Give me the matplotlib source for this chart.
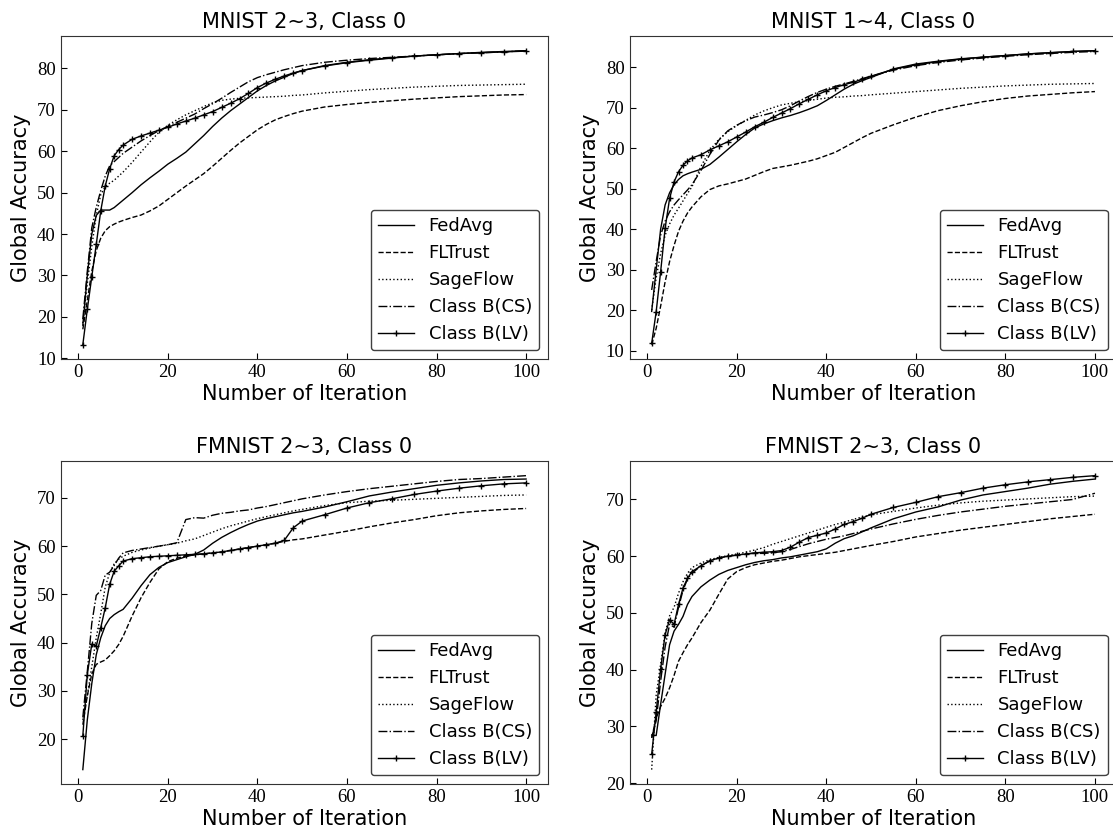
import matplotlib
matplotlib.use("Agg")
import matplotlib.pyplot as plt

# Iterations at which the accuracy was recorded
iterations = [1, 2, 3, 4, 5, 6, 7, 8, 9, 10,
              12, 14, 16, 18, 20, 22, 24, 26, 28, 30,
              32, 34, 36, 38, 40, 42, 44, 46, 48, 50,
              55, 60, 65, 70, 75, 80, 85, 90, 95, 100]

# MNIST 2~3, Class 0
mnist23_fedavg = [18, 30, 40, 44.5, 45.8, 45.8, 45.8, 46.4, 47.3, 48.2,
                  50, 51.9, 53.6, 55.2, 56.9, 58.3, 59.8, 61.8, 63.8, 66.0,
                  68.0, 69.8, 71.4, 73.0, 74.6, 75.9, 77.0, 77.9, 78.8, 79.5,
                  80.7, 81.5, 82.1, 82.6, 83.0, 83.3, 83.6, 83.9, 84.1, 84.3]
mnist23_fltrust = [17, 24, 31, 36, 39, 40.8, 41.8, 42.4, 42.9, 43.3,
                   44.0, 44.6, 45.6, 46.8, 48.4, 50.0, 51.6, 53.1, 54.6, 56.4,
                   58.3, 60.2, 62.0, 63.6, 65.2, 66.5, 67.6, 68.4, 69.1, 69.7,
                   70.7, 71.3, 71.8, 72.2, 72.6, 72.9, 73.2, 73.4, 73.6, 73.7]
mnist23_sageflow = [18.5, 28, 37, 44.5, 49.5, 51.5, 52.3, 53.0, 54.0, 55.0,
                    57.3, 59.8, 62.3, 64.6, 66.3, 67.6, 68.8, 69.8, 70.8, 71.7,
                    72.3, 72.6, 72.8, 72.9, 73.0, 73.1, 73.2, 73.3, 73.5, 73.6,
                    74.1, 74.5, 74.9, 75.2, 75.5, 75.7, 75.9, 76.0, 76.1, 76.2]
mnist23_cs = [19.5, 31, 41.5, 46.5, 50.5, 54, 56.5, 57.5, 58.5, 59.5,
              61.0, 62.5, 63.8, 65.0, 66.0, 67.0, 68.0, 69.0, 70.3, 71.5,
              72.8, 74.2, 75.5, 76.8, 77.8, 78.5, 79.1, 79.7, 80.2, 80.7,
              81.5, 82.0, 82.4, 82.7, 83.0, 83.3, 83.6, 83.8, 84.0, 84.3]
mnist23_lv = [13.3, 21.8, 29.7, 37.5, 45.6, 51.6, 55.8, 58.9, 60.4, 61.5,
              62.9, 63.7, 64.4, 65.1, 65.8, 66.6, 67.3, 68.0, 68.8, 69.6,
              70.6, 71.6, 72.7, 74.0, 75.4, 76.5, 77.4, 78.2, 78.9, 79.5,
              80.6, 81.4, 82.0, 82.5, 83.0, 83.3, 83.6, 83.8, 84.0, 84.2]

# MNIST 1~4, Class 0
mnist14_fedavg = [19.7, 30, 40, 46, 49, 51, 52.3, 53.2, 53.7, 54.1,
                  54.8, 56.0, 57.8, 59.7, 61.6, 63.4, 65.0, 66.0, 66.8, 67.5,
                  68.1, 68.8, 69.6, 70.5, 71.8, 73.2, 74.6, 75.8, 76.7, 77.5,
                  79.6, 80.8, 81.5, 82.1, 82.5, 82.9, 83.3, 83.6, 83.9, 84.1]
mnist14_fltrust = [11.5, 15.5, 21, 27, 32, 36, 39.5, 42, 44, 45.5,
                   48.0, 49.8, 50.7, 51.2, 51.8, 52.4, 53.3, 54.2, 55.0, 55.4,
                   55.8, 56.3, 56.8, 57.4, 58.2, 59.0, 60.2, 61.4, 62.6, 63.7,
                   65.8, 67.7, 69.3, 70.5, 71.5, 72.3, 72.9, 73.3, 73.7, 74.0]
mnist14_sageflow = [20, 28, 34, 38.5, 41.3, 43.5, 45.2, 47, 48.8, 50.5,
                    55.5, 59.5, 62.2, 64.1, 65.6, 66.9, 68.2, 69.2, 70.0, 70.7,
                    71.1, 71.5, 71.8, 72.1, 72.4, 72.6, 72.7, 72.9, 73.0, 73.2,
                    73.6, 74.0, 74.4, 74.8, 75.1, 75.4, 75.6, 75.8, 75.9, 76.0]
mnist14_cs = [25, 32, 38.5, 42, 44.3, 46, 47.3, 48.5, 49.7, 51,
              54.5, 58.5, 62.0, 64.3, 65.7, 66.8, 67.7, 68.2, 68.8, 69.5,
              70.5, 71.7, 72.8, 73.8, 74.6, 75.3, 75.9, 76.5, 77.2, 77.8,
              79.3, 80.4, 81.2, 81.8, 82.3, 82.7, 83.1, 83.4, 83.7, 83.9]
mnist14_lv = [11.8, 19.6, 29.5, 40.2, 47.6, 51.7, 54.2, 55.8, 56.9, 57.6,
              58.4, 59.6, 60.6, 61.6, 62.8, 64.0, 65.3, 66.4, 67.6, 68.7,
              69.8, 71.0, 72.1, 73.2, 74.2, 75.0, 75.7, 76.3, 77.0, 77.8,
              79.5, 80.6, 81.4, 82.0, 82.5, 82.9, 83.3, 83.6, 83.9, 84.1]

# FMNIST 2~3, Class 0 (first run)
fmnist_a_fedavg = [13.7, 24, 31.5, 37.5, 41, 43.5, 45, 45.8, 46.4, 46.9,
                   49.2, 51.8, 54.1, 55.6, 56.6, 57.2, 57.8, 58.3, 59.2, 60.6,
                   61.8, 62.8, 63.7, 64.5, 65.2, 65.7, 66.1, 66.5, 66.9, 67.2,
                   68.1, 69.2, 70.4, 71.2, 71.9, 72.6, 73.1, 73.5, 73.8, 73.9]
fmnist_a_fltrust = [23, 29, 33.5, 35.5, 36, 36.4, 37.3, 38.3, 39.6, 41.3,
                    45.5, 49.3, 52.5, 55.3, 56.8, 57.5, 57.9, 58.2, 58.4, 58.6,
                    58.8, 59.1, 59.4, 59.7, 60.0, 60.3, 60.6, 61.0, 61.3, 61.5,
                    62.3, 63.1, 64.0, 64.8, 65.5, 66.3, 66.9, 67.3, 67.6, 67.8]
fmnist_a_sageflow = [24, 29, 35, 41, 46, 51.5, 54.5, 56.3, 57.3, 57.9,
                     58.7, 59.2, 59.6, 60.0, 60.3, 60.6, 61.1, 61.5, 62.2, 62.9,
                     63.6, 64.2, 64.7, 65.2, 65.7, 66.1, 66.5, 66.9, 67.3, 67.6,
                     68.4, 69.0, 69.3, 69.5, 69.7, 69.9, 70.1, 70.3, 70.5, 70.6]
fmnist_a_cs = [24.5, 34, 44, 49.8, 50.8, 54, 54.6, 56, 57.5, 58.6,
               59.1, 59.4, 59.7, 60.0, 60.3, 60.7, 65.5, 65.9, 65.8, 66.4,
               66.8, 67.0, 67.3, 67.5, 67.9, 68.2, 68.6, 69.0, 69.4, 69.8,
               70.6, 71.3, 71.9, 72.4, 72.9, 73.4, 73.8, 74.0, 74.3, 74.6]
fmnist_a_lv = [20.7, 33.4, 39.7, 39.3, 43.1, 47.2, 52.1, 54.8, 55.9, 56.9,
               57.4, 57.6, 57.8, 57.9, 58.0, 58.1, 58.2, 58.3, 58.4, 58.6,
               58.8, 59.1, 59.4, 59.7, 60.0, 60.3, 60.6, 61.2, 63.8, 65.2,
               66.5, 67.9, 69.0, 69.8, 70.7, 71.4, 72.0, 72.5, 72.9, 73.1]

# FMNIST 2~3, Class 0 (second run)
fmnist_b_fedavg = [28.5, 28.4, 33.9, 39.2, 44.4, 46.8, 48, 49.4, 51.5, 52.9,
                   54.6, 55.8, 56.8, 57.5, 58.0, 58.5, 58.9, 59.2, 59.4, 59.7,
                   59.9, 60.2, 60.5, 60.8, 61.3, 62.3, 63.1, 63.6, 64.3, 65.0,
                   66.6, 67.8, 68.7, 69.9, 70.8, 71.4, 72.0, 72.7, 73.2, 73.6]
fmnist_b_fltrust = [28, 31.5, 33.5, 35, 36.8, 39, 41.5, 43, 44.4, 45.6,
                    48.3, 50.5, 53.3, 56.0, 57.3, 58.0, 58.5, 58.8, 59.1, 59.3,
                    59.6, 59.9, 60.1, 60.3, 60.5, 60.7, 61.0, 61.3, 61.6, 61.9,
                    62.6, 63.4, 64.0, 64.6, 65.1, 65.6, 66.1, 66.6, 67.0, 67.4]
fmnist_b_sageflow = [22.4, 35.5, 41, 46.5, 49.5, 51, 53.5, 55.5, 57, 58,
                     58.8, 59.4, 59.8, 60.1, 60.4, 60.7, 61.1, 61.5, 62.1, 62.6,
                     63.1, 63.6, 64.1, 64.6, 65.1, 65.6, 66.0, 66.5, 66.9, 67.3,
                     67.9, 68.5, 69.0, 69.4, 69.7, 69.9, 70.1, 70.3, 70.5, 70.6]
fmnist_b_cs = [28, 31, 38, 44, 48, 47.5, 51, 54, 56, 57,
               58.3, 59.2, 59.7, 60.0, 60.2, 60.4, 60.5, 60.5, 60.6, 60.8,
               61.2, 61.7, 62.2, 62.6, 63.0, 63.3, 63.6, 64.0, 64.4, 64.8,
               65.7, 66.5, 67.2, 67.8, 68.3, 68.8, 69.2, 69.6, 70.0, 71.1]
fmnist_b_lv = [25.1, 32.5, 40.1, 46.2, 48.8, 48.0, 51.5, 54.4, 56.1, 57.3,
               58.3, 59.2, 59.7, 60.0, 60.2, 60.4, 60.6, 60.7, 60.8, 61.0,
               61.6, 62.5, 63.3, 63.7, 64.1, 64.8, 65.6, 66.1, 66.7, 67.4,
               68.6, 69.5, 70.5, 71.2, 72.0, 72.6, 73.1, 73.5, 73.9, 74.2]

titles = ["MNIST 2~3, Class 0", "MNIST 1~4, Class 0",
          "FMNIST 2~3, Class 0", "FMNIST 2~3, Class 0"]
method_names = ["FedAvg", "FLTrust", "SageFlow", "Class B(CS)", "Class B(LV)"]

panels = [
    [mnist23_fedavg, mnist23_fltrust, mnist23_sageflow, mnist23_cs, mnist23_lv],
    [mnist14_fedavg, mnist14_fltrust, mnist14_sageflow, mnist14_cs, mnist14_lv],
    [fmnist_a_fedavg, fmnist_a_fltrust, fmnist_a_sageflow, fmnist_a_cs, fmnist_a_lv],
    [fmnist_b_fedavg, fmnist_b_fltrust, fmnist_b_sageflow, fmnist_b_cs, fmnist_b_lv],
]

styles = [
    dict(linestyle="-"),
    dict(linestyle="--"),
    dict(linestyle=":"),
    dict(linestyle="-."),
    dict(linestyle="-", marker="+", markersize=4, markeredgewidth=1),
]

# axes rectangles in figure fractions: [left, bottom, width, height]
positions = [
    [0.0545, 0.5676, 0.4381, 0.3891],
    [0.5656, 0.5676, 0.4381, 0.3891],
    [0.0545, 0.0562, 0.4381, 0.3891],
    [0.5656, 0.0562, 0.4381, 0.3891],
]

fig = plt.figure(figsize=(11.13, 8.31), dpi=100)

for pos, title, series in zip(positions, titles, panels):
    ax = fig.add_axes(pos)
    for name, values, style in zip(method_names, series, styles):
        ax.plot(iterations, values, color="black", linewidth=1.0, label=name, **style)

    ax.set_title(title, fontsize=15, family="DejaVu Sans", pad=6)
    ax.set_xlabel("Number of Iteration", fontsize=15, family="DejaVu Sans", labelpad=2)
    ax.set_ylabel("Global Accuracy", fontsize=15, family="DejaVu Sans", labelpad=4)
    ax.set_xticks([0, 20, 40, 60, 80, 100])
    ax.tick_params(direction="in", length=4, labelsize=13.5)
    for lbl in ax.get_xticklabels() + ax.get_yticklabels():
        lbl.set_family("Liberation Serif")
    for sp in ax.spines.values():
        sp.set_color("0.2")

    leg = ax.legend(loc="lower right", framealpha=1.0,
                    prop={"family": "DejaVu Sans", "size": 13})
    leg.get_frame().set_edgecolor("0.25")
    leg.get_frame().set_linewidth(1.0)

fig.savefig("out.png", dpi=100)
